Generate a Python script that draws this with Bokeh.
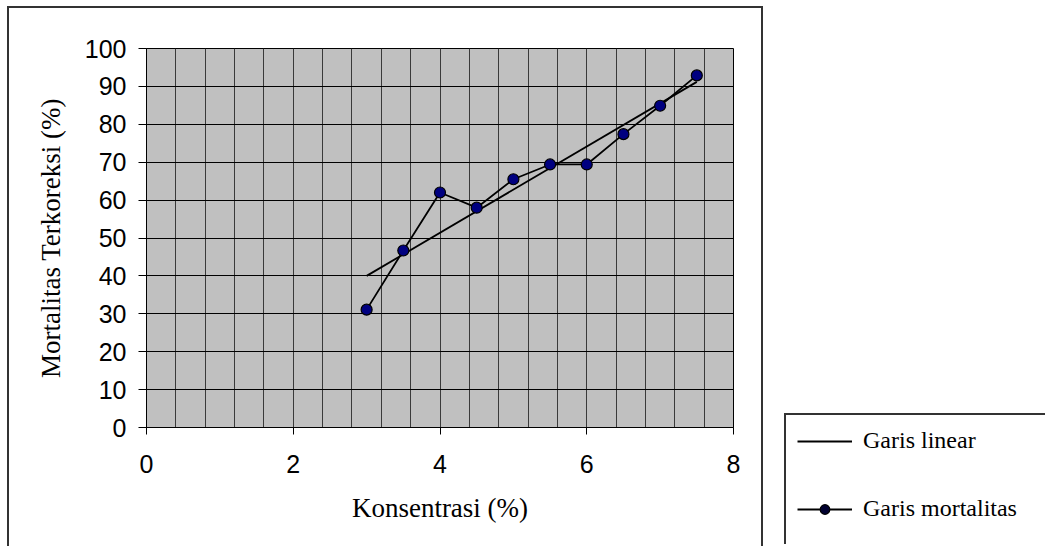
from bokeh.plotting import figure
from bokeh.models import (Range1d, FixedTicker, Legend, LegendItem,
                          ColumnDataSource, Spacer)
from bokeh.layouts import row, column
from bokeh.embed import file_html
from bokeh.resources import INLINE

# ---- data ----
konsentrasi = [3.0, 3.5, 4.0, 4.5, 5.0, 5.5, 6.0, 6.5, 7.0, 7.5]
mortalitas = [31.1, 46.7, 62.0, 58.0, 65.5, 69.4, 69.4, 77.4, 84.9, 92.9]
linear_x = [3.0, 7.5]
linear_y = [40.0, 91.2]
x_ticks = [0, 2, 4, 6, 8]
y_ticks = [0, 10, 20, 30, 40, 50, 60, 70, 80, 90, 100]
x_grid_ticks = [0.0, 0.4, 0.8, 1.2, 1.6, 2.0, 2.4, 2.8, 3.2, 3.6, 4.0,
                4.4, 4.8, 5.2, 5.6, 6.0, 6.4, 6.8, 7.2, 7.6, 8.0]
x_label = "Konsentrasi (%)"
y_label = "Mortalitas Terkoreksi (%)"
legend_labels = ["Garis linear", "Garis mortalitas"]

BORDER = "2px solid #333333"

# ---------------- chart box ----------------
AW, AH = 756, 540
FL, FT, FW, FH = 137, 40, 587, 379

p = figure(width=AW, height=AH, output_backend="svg", toolbar_location=None,
           x_range=Range1d(0, 8), y_range=Range1d(0, 100),
           min_border_left=FL, min_border_top=FT,
           min_border_right=AW - FL - FW, min_border_bottom=AH - FT - FH)
p.styles = {"border-left": BORDER, "border-top": BORDER, "border-right": BORDER}

p.background_fill_color = "#C0C0C0"
p.border_fill_color = "white"
p.outline_line_color = "black"
p.outline_line_width = 1

p.xaxis.ticker = FixedTicker(ticks=x_ticks)
p.yaxis.ticker = FixedTicker(ticks=y_ticks)
p.xgrid.ticker = FixedTicker(ticks=x_grid_ticks)
p.ygrid.ticker = FixedTicker(ticks=y_ticks)
p.xgrid.grid_line_color = "#3a3a3a"
p.ygrid.grid_line_color = "black"
p.xgrid.grid_line_width = 1
p.ygrid.grid_line_width = 1

for ax in (p.xaxis, p.yaxis):
    ax.axis_line_color = "black"
    ax.major_tick_line_color = "black"
    ax.minor_tick_line_color = None
    ax.major_tick_in = 0
    ax.major_label_text_font = "Liberation Sans"
    ax.major_label_text_font_size = "25px"
    ax.major_label_text_color = "black"
    ax.axis_label_text_font = "Liberation Serif"
    ax.axis_label_text_font_size = "27px"
    ax.axis_label_text_font_style = "normal"
    ax.axis_label_text_color = "black"

p.xaxis.major_tick_out = 7
p.yaxis.major_tick_out = 8
p.xaxis.major_label_standoff = 20
p.yaxis.major_label_standoff = 12
p.xaxis.axis_label = x_label
p.yaxis.axis_label = y_label
p.xaxis.axis_label_standoff = 17
p.yaxis.axis_label_standoff = 16

lin_src = ColumnDataSource(dict(x=linear_x, y=linear_y))
src = ColumnDataSource(dict(x=konsentrasi, y=mortalitas))

LINE = dict(line_color="black", line_width=1.8)
MARK = dict(size=11, fill_color="#000080", line_color="black", line_width=1.2)

p.line("x", "y", source=lin_src, **LINE)
p.line("x", "y", source=src, **LINE)
p.scatter("x", "y", source=src, **MARK)

# ---------------- legend box ----------------
BW, BH = 261, 131
q = figure(width=BW, height=BH, output_backend="svg", toolbar_location=None,
           x_range=Range1d(-2, -1), y_range=Range1d(-2, -1),
           x_axis_type=None, y_axis_type=None,
           min_border_left=0, min_border_right=0, min_border_top=0, min_border_bottom=0)
q.styles = {"border-left": BORDER, "border-top": BORDER}
q.outline_line_color = None
q.background_fill_color = "white"
q.border_fill_color = "white"
q.grid.visible = False

# legend sample renderers (their data lies outside this box's ranges)
s_lin = q.line("x", "y", source=lin_src, **LINE)
s_ml = q.line("x", "y", source=src, **LINE)
s_mp = q.scatter("x", "y", source=src, size=11, fill_color="#000030",
                 line_color="black", line_width=1.2)

legend = Legend(items=[LegendItem(label=legend_labels[0], renderers=[s_lin]),
                       LegendItem(label=legend_labels[1], renderers=[s_ml, s_mp])],
                location=(11, 24), padding=0, margin=0, spacing=41,
                glyph_width=55, glyph_height=24, label_height=24,
                label_standoff=11, border_line_color=None,
                background_fill_alpha=0,
                label_text_font="Liberation Serif", label_text_font_size="24px",
                label_text_color="black")
q.add_layout(legend, "center")

layout = row(Spacer(width=7),
             column(Spacer(height=6), p),
             Spacer(width=21),
             column(Spacer(height=413), q))

open("out.html", "w").write(file_html(layout, INLINE))
